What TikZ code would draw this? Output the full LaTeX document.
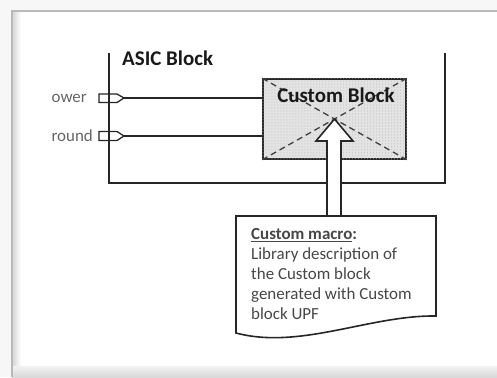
\documentclass[tikz,border=0pt]{standalone}
\usepackage{fontspec}
\setmainfont{Carlito}
\usetikzlibrary{patterns}
\begin{document}
\begin{tikzpicture}[x=1bp,y=-1bp,
  wire/.style={line width=1.6bp, draw=black!85},
  portshape/.style={line width=1.3bp, draw=black!85},
  plabel/.style={font=\fontsize{17}{20}\selectfont, text=black!60, inner sep=0pt},
  title/.style={font=\bfseries\fontsize{21}{25}\selectfont, text=black!90, inner sep=0pt},
  blockbox/.style={draw=black!85, line width=1.5bp, fill=gray!22, inner sep=0pt,
    minimum width=143bp, minimum height=80bp},
  diag/.style={draw=black!75, line width=1.3bp, dash pattern=on 6bp off 4bp},
  notetext/.style={font=\fontsize{17}{20}\selectfont, text=black!72, inner sep=0pt, align=left},
]
\useasboundingbox (0,0) rectangle (497,377);
\clip (0,0) rectangle (497,377);

% page with soft shadow
\fill[gray!6] (0,0) rectangle (497,377);
\fill[white] (12,11) rectangle (497,366);
\shade[left color=gray!30, right color=white] (13,12) rectangle (21,366);
\shade[top color=gray!10, bottom color=gray!30] (12,366) rectangle (497,377);
\draw[gray!55, line width=1.5bp] (12,377) -- (12,11) -- (497,11);

% ASIC block outline
\draw[wire] (109,53) -- (109,183) -- (445,183) -- (445,53);
\node[title, anchor=base west] (asic) at (122,65) {ASIC Block};

% input ports
\draw[portshape] (99,94) -- (117,94) -- (124,98) -- (117,102.5) -- (99,102.5) -- cycle;
\coordinate (p1) at (124,98);
\draw[portshape] (99,131.5) -- (117,131.5) -- (124,136) -- (117,140.5) -- (99,140.5) -- cycle;
\coordinate (p2) at (124,136);
\node[plabel, anchor=base east] (lpow) at (87,102) {ower};
\node[plabel, anchor=base east] (lgnd) at (93,141.5) {round};

% custom block
\node[blockbox] (cb) at (334.5,119) {};
\fill[pattern=dots, pattern color=gray!55] (cb.north west) rectangle (cb.south east);
\draw[diag] (cb.north west) -- (cb.south east);
\draw[diag] (cb.north east) -- (cb.south west);
\node[title, anchor=base] (cbt) at (336,102) {Custom Block};

% wires from the ports to the block
\draw[wire] (p1) -- (p1 -| cb.west);
\draw[wire] (p2) -- (p2 -| cb.west);

% hollow arrow from the note up into the block
\coordinate (tip) at (cb.center);
\draw[wire, fill=white, line join=miter] (327,216) -- (327,141) -- (316,141) -- (tip)
  -- (353,141) -- (341,141) -- (341,216);

% note with wavy bottom
\draw[wire, fill=white] (236,216) -- (436,216) -- (436,316)
  .. controls (370,315) and (300,350) .. (236,333) -- cycle;
\node[notetext, anchor=north west] (note) at (251,228.5)
  {\textbf{\underline{Custom macro}:}\\
   Library description of\\
   the Custom block\\
   generated with Custom\\
   block UPF};
\end{tikzpicture}
\end{document}
